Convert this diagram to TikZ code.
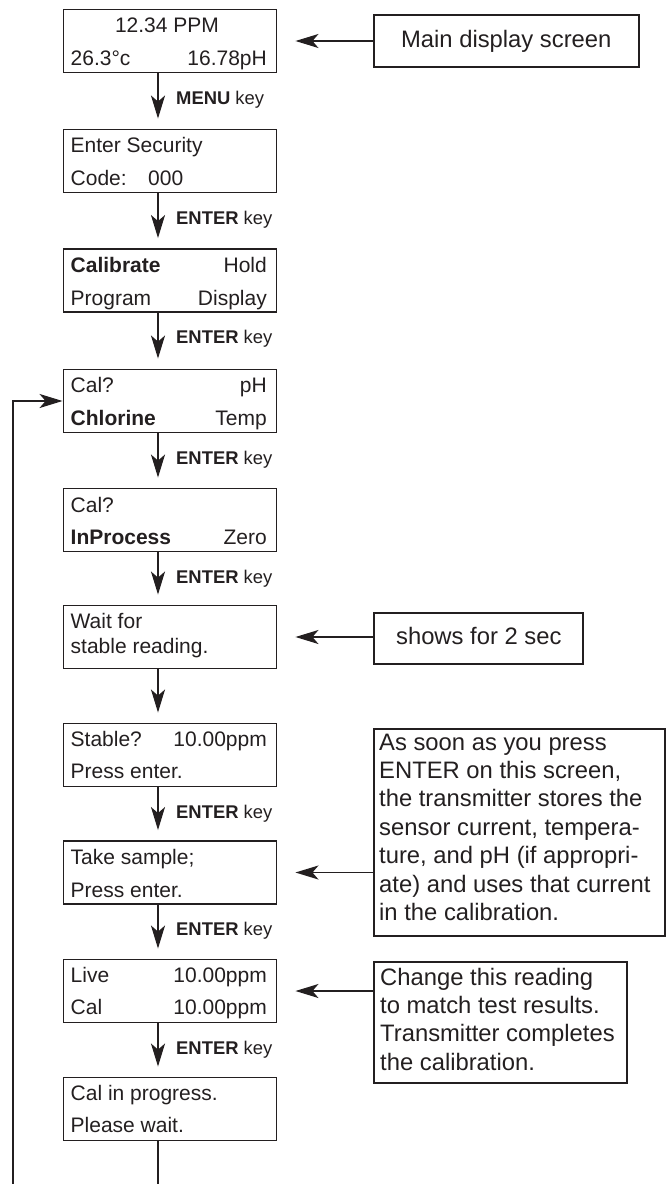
\documentclass[tikz,border=0pt]{standalone}
\usepackage{fontspec}
\setmainfont{Liberation Sans}
\usetikzlibrary{arrows.meta}
\definecolor{ink}{HTML}{231F20}
\begin{document}
\begin{tikzpicture}[x=1pt,y=-1pt,
  every node/.style={text=ink},
  scr/.style={draw=ink,line width=1.9pt,minimum width=213pt,minimum height=63pt,inner sep=0pt},
  call/.style={draw=ink,line width=1.9pt,inner sep=0pt},
  tx/.style={inner sep=0pt,font=\fontsize{21}{25}\selectfont},
  tl/.style={tx,anchor=base west},
  tr/.style={tx,anchor=base east},
  lab/.style={inner sep=0pt,anchor=base west,font=\fontsize{18.4}{22}\selectfont},
  ctx/.style={inner sep=0pt,font=\fontsize{23.8}{28.4}\selectfont},
  tip/.style={-{Stealth[length=23pt,width=14pt,inset=6pt]}},
  arr/.style={draw=ink,line width=1.9pt,tip},
  carr/.style={draw=ink,line width=1.6pt,tip,shorten >=18pt}]
\useasboundingbox (0,0) rectangle (667,1184);
\clip (0,0) rectangle (667,1184);
% screens
\foreach \i/\c in {1/41,2/161,3/280.5,4/401,5/520,6/637,7/755,8/872.5,9/991,10/1109}{
  \node[scr] (s\i) at (170,\c) {};
}
% arrows between screens
\foreach \i/\j in {1/2,2/3,3/4,4/5,5/6,6/7,7/8,8/9,9/10}{
  \draw[arr,shorten >=10pt] ([xshift=-12pt]s\i.south) -- ([xshift=-12pt]s\j.north);
}
% key labels
\node[lab] (k1) at ([xshift=6pt,yshift=-31pt]s1.south) {\textbf{MENU} key};
\foreach \i in {2,3,4,5,7,8,9}{
  \node[lab] (k\i) at ([xshift=6pt,yshift=-31pt]s\i.south) {\textbf{ENTER} key};
}
% screen texts
\node[tx,anchor=base] (t1a) at (167,32) {12.34 PPM};
\node[tl] (t1b) at (70.5,65) {26.3°c};
\node[tr] (t1c) at (267,65) {16.78pH};
\node[tl] (t2a) at (70.5,152) {Enter Security};
\node[tl] (t2b) at (70.5,185) {Code:};
\node[tl] (t2c) at (148,185) {000};
\node[tl] (t3a) at (70.5,272) {\textbf{Calibrate}};
\node[tr] (t3b) at (267,272) {Hold};
\node[tl] (t3c) at (70.5,305) {Program};
\node[tr] (t3d) at (267,305) {Display};
\node[tl] (t4a) at (70.5,392.5) {Cal?};
\node[tr] (t4b) at (267,392.5) {pH};
\node[tl] (t4c) at (70.5,425) {\textbf{Chlorine}};
\node[tr] (t4d) at (267,425) {Temp};
\node[tl] (t5a) at (70.5,512) {Cal?};
\node[tl] (t5b) at (70.5,544) {\textbf{InProcess}};
\node[tr] (t5c) at (267,544) {Zero};
\node[tl] (t6a) at (70.5,628) {Wait for};
\node[tl] (t6b) at (70.5,653) {stable reading.};
\node[tl] (t7a) at (70.5,746.5) {Stable?};
\node[tr] (t7b) at (267,746.5) {10.00ppm};
\node[tl] (t7c) at (70.5,778) {Press enter.};
\node[tl] (t8a) at (70.5,864.5) {Take sample;};
\node[tl] (t8b) at (70.5,897) {Press enter.};
\node[tl] (t9a) at (70.5,982) {Live};
\node[tr] (t9b) at (267,982) {10.00ppm};
\node[tl] (t9c) at (70.5,1014) {Cal};
\node[tr] (t9d) at (267,1014) {10.00ppm};
\node[tl] (t10a) at (70.5,1100) {Cal in progress.};
\node[tl] (t10b) at (70.5,1132) {Please wait.};
% callouts
\node[call,minimum width=265pt,minimum height=52pt] (c1) at (506.5,41) {};
\node[ctx,anchor=base] (c1t) at (506.3,47) {Main display screen};
\node[call,minimum width=209pt,minimum height=51pt] (c2) at (478.5,638.5) {};
\node[ctx,anchor=base] (c2t) at (478.8,644) {shows for 2 sec};
\node[call,minimum width=291pt,minimum height=207pt] (c3) at (519.5,832.5) {};
\node[ctx,anchor=base west] (c3t) at (379,750) {\begin{tabular}[t]{@{}l@{}}As soon as you press\\ENTER on this screen,\\the transmitter stores the\\sensor current, tempera-\\ture, and pH (if appropri-\\ate) and uses that current\\in the calibration.\end{tabular}};
\node[call,minimum width=253pt,minimum height=121pt] (c4) at (500.5,1022.5) {};
\node[ctx,anchor=base west] (c4t) at (380,985) {\begin{tabular}[t]{@{}l@{}}Change this reading\\to match test results.\\Transmitter completes\\the calibration.\end{tabular}};
\draw[carr] (s1.east -| c1.west) -- (s1.east);
\draw[carr] (s6.east -| c2.west) -- (s6.east);
\draw[carr] (s8.east -| c3.west) -- (s8.east);
\draw[carr] (s9.east -| c4.west) -- (s9.east);
% loop back
\coordinate (lb) at (158,1192);
\coordinate (ll) at (13,1192);
\draw[arr] ([xshift=-12pt]s10.south) -- (lb) -- (ll) |- (s4.west);
\end{tikzpicture}
\end{document}
